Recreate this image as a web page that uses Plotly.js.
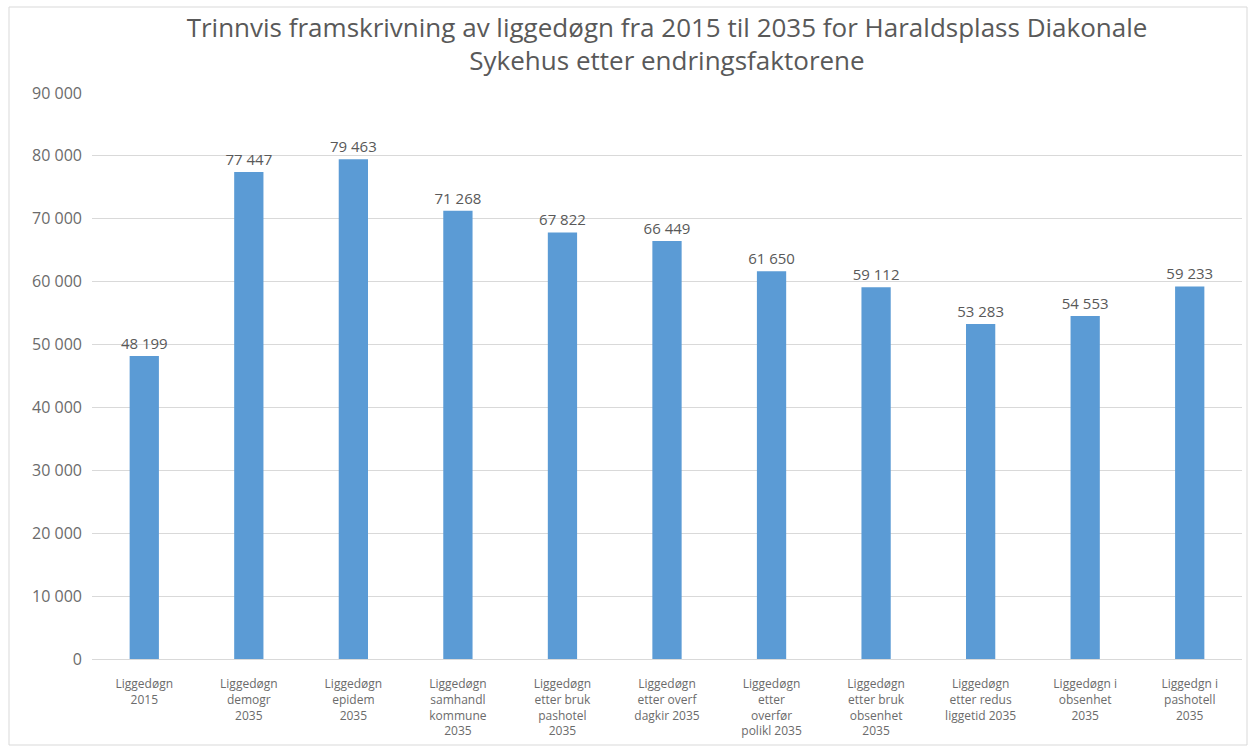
<!DOCTYPE html>
<html>
<head>
<meta charset="utf-8">
<script src="https://cdn.plot.ly/plotly-3.0.1.min.js"></script>
<style>html,body{margin:0;padding:0;background:#fff;}#chart{width:1249px;height:748px;}</style>
</head>
<body>
<div id="chart"></div>
<script>
const categories = [
  "Liggedøgn<br>2015",
  "Liggedøgn<br>demogr<br>2035",
  "Liggedøgn<br>epidem<br>2035",
  "Liggedøgn<br>samhandl<br>kommune<br>2035",
  "Liggedøgn<br>etter bruk<br>pashotel<br>2035",
  "Liggedøgn<br>etter overf<br>dagkir 2035",
  "Liggedøgn<br>etter<br>overfør<br>polikl 2035",
  "Liggedøgn<br>etter bruk<br>obsenhet<br>2035",
  "Liggedøgn<br>etter redus<br>liggetid 2035",
  "Liggedøgn i<br>obsenhet<br>2035",
  "Liggedgn i<br>pashotell<br>2035"
];
const values = [48199, 77447, 79463, 71268, 67822, 66449, 61650, 59112, 53283, 54553, 59233];
const yTicks = [0, 10000, 20000, 30000, 40000, 50000, 60000, 70000, 80000, 90000];
const titleText = "Trinnvis framskrivning av liggedøgn fra 2015 til 2035 for Haraldsplass Diakonale<br>Sykehus etter endringsfaktorene";

const font = "'Open Sans', sans-serif";
const trace = {
  type: "bar",
  x: categories,
  y: values,
  marker: {color: "#5b9bd5"},
  texttemplate: "%{y:,}",
  textposition: "outside",
  constraintext: "none",
  cliponaxis: false,
  textfont: {family: font, size: 15, color: "#595959"},
  hoverinfo: "x+y"
};
const layout = {
  width: 1249, height: 748,
  margin: {l: 92, r: 7, t: 93, b: 89},
  paper_bgcolor: "#fff", plot_bgcolor: "#fff",
  separators: ", ",
  bargap: 0.72,
  showlegend: false,
  title: {text: titleText, font: {family: font, size: 26, color: "#595959"}, x: 0.5, xref: "paper", y: 0.951, yanchor: "middle"},
  xaxis: {
    tickfont: {family: font, size: 12, color: "#6b6b6b"},
    showgrid: false, showline: true, linecolor: "#d9d9d9", linewidth: 1,
    ticks: "", ticklabelstandoff: 14, fixedrange: true, automargin: false
  },
  yaxis: {
    range: [0, 90000],
    tickvals: yTicks,
    tickformat: ",",
    tickfont: {family: font, size: 16, color: "#6b6b6b"},
    showgrid: true, gridcolor: "#d9d9d9", gridwidth: 1,
    zeroline: false, showline: false, ticks: "",
    ticklabelstandoff: 9,
    fixedrange: true, automargin: false
  },
  shapes: [{
    type: "rect", xref: "paper", yref: "paper",
    x0: (9 - 92) / 1150, x1: (1247 - 92) / 1150,
    y0: (659 - 745) / 566, y1: (659 - 7) / 566,
    line: {color: "#d9d9d9", width: 1}, fillcolor: "rgba(0,0,0,0)", layer: "below"
  }]
};
Plotly.newPlot("chart", [trace], layout, {displayModeBar: false, staticPlot: true});
</script>
</body>
</html>
